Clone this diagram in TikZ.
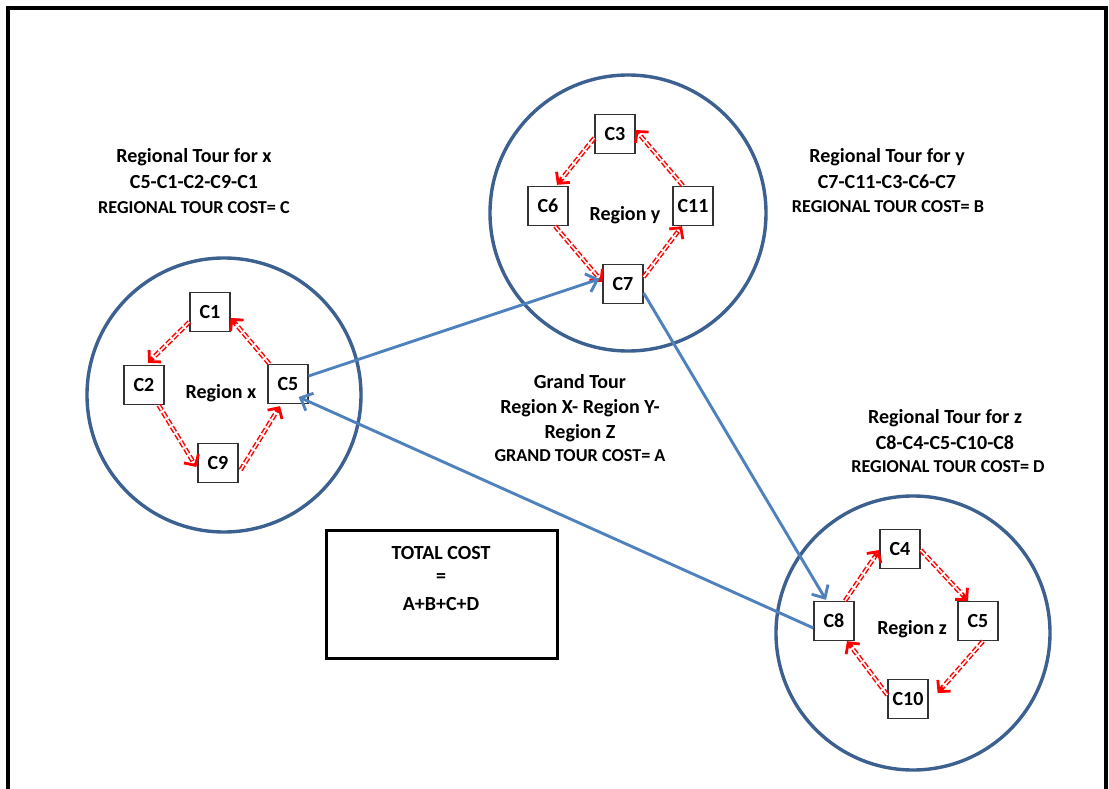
\documentclass[tikz,border=0pt]{standalone}
\usepackage{fontspec}
\setmainfont{Carlito}
\usetikzlibrary{arrows.meta,calc}

\definecolor{ringblue}{HTML}{3C6090}
\definecolor{tourblue}{HTML}{4F81BD}

\tikzset{
  region/.style={circle, draw=ringblue, line width=3.4pt, minimum size=#1, inner sep=0pt},
  city/.style={draw=black!80, line width=1.3pt, fill=white, minimum width=40pt,
    minimum height=39pt, inner sep=0pt, font=\fontsize{20}{22}\selectfont\bfseries},
  rlabel/.style={font=\fontsize{20}{22}\selectfont\bfseries},
  title/.style={font=\fontsize{20}{22}\selectfont\bfseries, align=center},
  costline/.style={font=\fontsize{18.2}{20}\selectfont\bfseries},
  regtour/.style={red, line width=4.6pt, dash pattern=on 6pt off 2.5pt,
    -{Straight Barb[length=8pt, width=17pt, line width=2.8pt]},
    postaction={draw=white, line width=1.6pt, -, shorten >=8pt}},
  grandtour/.style={tourblue, line width=2.9pt,
    -{Straight Barb[length=10pt, width=19pt, line width=2.9pt]}},
}

\begin{document}
\begin{tikzpicture}[x=1pt, y=-1pt]
  \useasboundingbox (0,0) rectangle (1109,789);
  % outer frame, open at the bottom
  \draw[line width=4pt] (8,789) -- (8,8) -- (1106,8) -- (1106,789);

  % regions
  \node[region=274pt] (Rx) at (224,395) {};
  \node[region=276pt] (Ry) at (628,213) {};
  \node[region=274pt] (Rz) at (913,633) {};
  \node[rlabel] (Lx) at (221,393) {Region x};
  \node[rlabel] (Ly) at (625,215) {Region y};
  \node[rlabel] (Lz) at (912,629) {Region z};

  % cities of region x
  \node[city] (C1) at (210,312) {C1};
  \node[city] (C2) at (144,385) {C2};
  \node[city] (C5) at (288,384) {C5};
  \node[city] (C9) at (218,463) {C9};
  % cities of region y
  \node[city] (C3) at (615,134) {C3};
  \node[city] (C6) at (548,206) {C6};
  \node[city] (C11) at (693,206) {C11};
  \node[city] (C7) at (623,284) {C7};
  % cities of region z
  \node[city] (C4) at (900,549) {C4};
  \node[city] (C8) at (834,621) {C8};
  \node[city] (C5z) at (978,621) {C5};
  \node[city] (C10) at (908,699) {C10};

  % regional tour of x
  \draw[regtour] ($(C5.north west)+(2,0)$) -- ($(C1.east)+(0,6)$);
  \draw[regtour] ($(C1.west)+(0,10)$) -- ($(C2.north)+(4,-2)$);
  \draw[regtour] ($(C2.south east)+(-6,0)$) -- ($(C9.west)+(-1,4)$);
  \draw[regtour] ($(C9.east)+(2,7)$) -- ($(C5.south)+(-8,2)$);
  % regional tour of y
  \draw[regtour] ($(C11.north)+(-10,0)$) -- ($(C3.east)+(0,-4)$);
  \draw[regtour] ($(C3.west)+(0,4)$) -- ($(C6.north)+(9,-1)$);
  \draw[regtour] ($(C6.south)+(7,0)$) -- ($(C7.west)+(0,-2)$);
  \draw[regtour] ($(C7.east)+(0,-7)$) -- ($(C11.south)+(-11,0)$);
  % regional tour of z
  \draw[regtour] ($(C8.north)+(11,0)$) -- ($(C4.west)+(0,1)$);
  \draw[regtour] ($(C4.east)+(0,1)$) -- ($(C5z.north)+(-10,0)$);
  \draw[regtour] ($(C5z.south)+(5,0)$) -- ($(C10.east)+(9,-6)$);
  \draw[regtour] ($(C10.west)+(0,-4)$) -- ($(C8.south)+(13,0)$);

  % grand tour
  \draw[grandtour] ($(C5.east)+(0,-8)$) -- ($(C7.west)+(-3,-5)$);
  \draw[grandtour] ($(C7.east)+(0,9)$) -- ($(C8.north)+(-8,-1)$);
  \draw[grandtour] ($(C8.west)+(0,7)$) -- ($(C5.east)+(-10,13)$);

  % tour descriptions
  \node[title] (Tx1) at (194,157) {Regional Tour for x};
  \node[title] (Tx2) at (194,182) {C5-C1-C2-C9-C1};
  \node[costline] (Tx3) at (194,208) {REGIONAL TOUR COST= C};

  \node[title] (Ty1) at (887,157) {Regional Tour for y};
  \node[title] (Ty2) at (887,182) {C7-C11-C3-C6-C7};
  \node[costline] (Ty3) at (888,207) {REGIONAL TOUR COST= B};

  \node[title] (G1) at (580,382) {Grand Tour};
  \node[title] (G2) at (580,408) {Region X- Region Y-};
  \node[title] (G3) at (580,433) {Region Z};
  \node[costline] (G4) at (580,456) {GRAND TOUR COST= A};

  \node[title] (Tz1) at (945,418) {Regional Tour for z};
  \node[title] (Tz2) at (945,443) {C8-C4-C5-C10-C8};
  \node[costline] (Tz3) at (948,467) {REGIONAL TOUR COST= D};

  % total cost box
  \draw[line width=3pt] (326,530) rectangle (557,658);
  \node[title] (T1) at (441,553) {TOTAL COST};
  \node[title] (T2) at (441,578) {=};
  \node[title] (T3) at (441,604) {A+B+C+D};
\end{tikzpicture}
\end{document}
